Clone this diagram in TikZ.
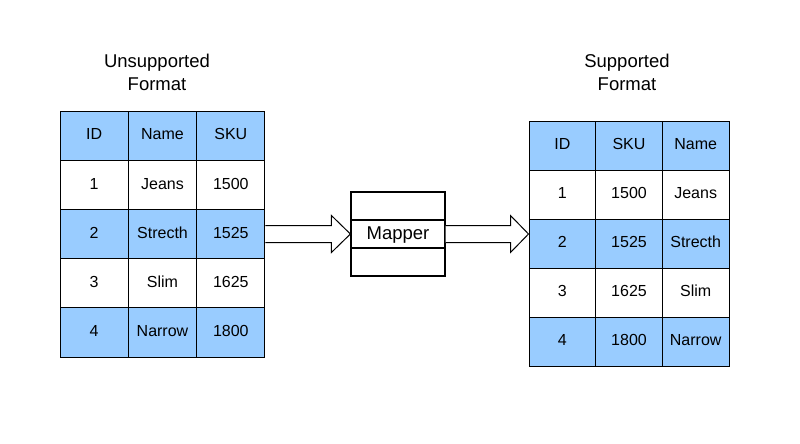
\documentclass[tikz,border=0pt]{standalone}
\usepackage{fontspec}
\setmainfont{Liberation Sans}
\usetikzlibrary{calc}
\definecolor{cellblue}{HTML}{99CCFF}
\tikzset{
  cell/.style={draw=black, line width=1pt, inner sep=0pt, text height=11.5pt, text depth=3pt,
    font=\fontsize{16}{19}\selectfont},
  lcell/.style={cell, minimum width=68.33pt, minimum height=49.2pt},
  rcell/.style={cell, minimum width=66.67pt, minimum height=49pt},
  mapcell/.style={draw=black, line width=1.2pt, inner sep=0pt, minimum width=94pt, minimum height=28pt,
    text height=13.4pt, text depth=3pt, font=\fontsize{18.5}{22}\selectfont},
  title/.style={align=center, font=\fontsize{18.5}{23}\selectfont},
  blockarrow/.style={draw=black, line width=1pt, fill=white, line join=miter}
}
\begin{document}
\begin{tikzpicture}[x=1pt,y=-1pt]
\useasboundingbox (0,0) rectangle (800,444);
\fill[white] (0,0) rectangle (800,444);

\node[title] (ltitle) at (157,72) {Unsupported\\Format};
\node[title] (rtitle) at (627,72) {Supported\\Format};

\foreach \r/\f/\a/\b/\c in {0/cellblue/ID/Name/SKU, 1/white/1/Jeans/1500, 2/cellblue/2/Strecth/1525, 3/white/3/Slim/1625, 4/cellblue/4/Narrow/1800}{
  \node[lcell, fill=\f] (l-\r-1) at (94.17,{135.6+49.2*\r}) {\a};
  \node[lcell, fill=\f] (l-\r-2) at (162.5,{135.6+49.2*\r}) {\b};
  \node[lcell, fill=\f] (l-\r-3) at (230.83,{135.6+49.2*\r}) {\c};
}

\foreach \r/\f/\a/\b/\c in {0/cellblue/ID/SKU/Name, 1/white/1/1500/Jeans, 2/cellblue/2/1525/Strecth, 3/white/3/1625/Slim, 4/cellblue/4/1800/Narrow}{
  \node[rcell, fill=\f] (r-\r-1) at (562.33,{145.5+49*\r}) {\a};
  \node[rcell, fill=\f] (r-\r-2) at (629,{145.5+49*\r}) {\b};
  \node[rcell, fill=\f] (r-\r-3) at (695.67,{145.5+49*\r}) {\c};
}

\node[mapcell] (mtop) at (398,206) {};
\node[mapcell] (mapper) at (398,234) {Mapper};
\node[mapcell] (mbot) at (398,262) {};

\draw[blockarrow] let \p1=(l-2-3.east), \p2=(mapper.west) in
  (\x1,\y2-8.5pt) -- (\x2-19pt,\y2-8.5pt) -- (\x2-19pt,\y2-18.5pt) -- (\x2,\y2)
  -- (\x2-19pt,\y2+18.5pt) -- (\x2-19pt,\y2+8.5pt) -- (\x1,\y2+8.5pt);
\draw[blockarrow] let \p1=(mapper.east), \p2=(r-2-1.west) in
  (\x1,\y1-8.5pt) -- (\x2-18pt,\y1-8.5pt) -- (\x2-18pt,\y1-18.5pt) -- (\x2,\y1)
  -- (\x2-18pt,\y1+18.5pt) -- (\x2-18pt,\y1+8.5pt) -- (\x1,\y1+8.5pt);
\end{tikzpicture}
\end{document}
